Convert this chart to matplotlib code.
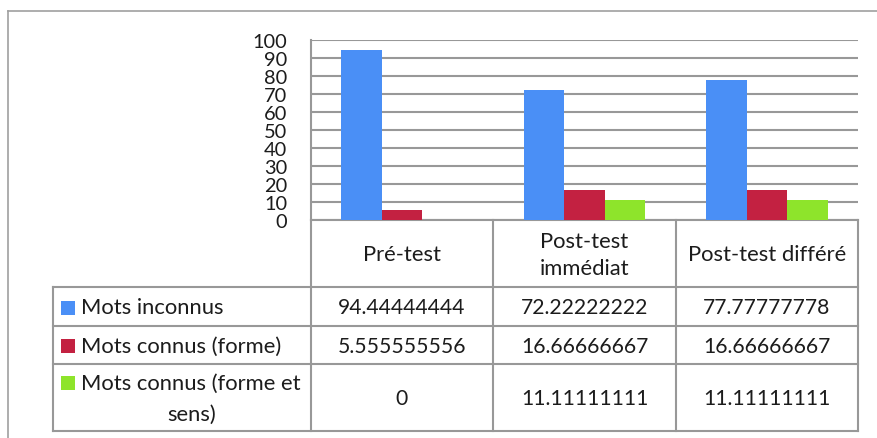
import matplotlib.pyplot as plt
from matplotlib.patches import Rectangle

# ---------------------------------------------------------------------------
# Data
# ---------------------------------------------------------------------------

categories = ["Pré-test", "Post-test\nimmédiat", "Post-test différé"]
series_names = ["Mots inconnus", "Mots connus (forme)", "Mots connus (forme et\nsens)"]
mots_inconnus = [94.44444444, 72.22222222, 77.77777778]
mots_connus_forme = [5.555555556, 16.66666667, 16.66666667]
mots_connus_forme_sens = [0, 11.11111111, 11.11111111]
y_ticks = [0, 10, 20, 30, 40, 50, 60, 70, 80, 90, 100]

series = [mots_inconnus, mots_connus_forme, mots_connus_forme_sens]
colors = ["#4A8FF6", "#C32141", "#8EE42B"]

# ---------------------------------------------------------------------------
# Layout (pixels)
# ---------------------------------------------------------------------------

W, H = 877, 439
GRID = "#989898"
TXT = "#1c1c1c"
FONT = "Lato"
FS_TICK = 14.4
FS_LABEL = 15.8
FS_NUM = 15.2

plot_l, plot_r, plot_t, plot_b = 311, 858, 41, 221
col_x = [311, 493, 676, 858]
row_y = [288, 327, 365, 432]
label_l = 53

fig = plt.figure(figsize=(W / 100, H / 100), dpi=100)

bg = fig.add_axes([0, 0, 1, 1])
bg.set_xlim(0, W)
bg.set_ylim(H, 0)
bg.axis("off")

# outer chart frame
bg.plot([8, W], [12, 12], color="#a0a0a0", lw=1.2)
bg.plot([8, 8], [12, H], color="#a0a0a0", lw=1.2)

ax = fig.add_axes([plot_l / W, 1 - plot_b / H, (plot_r - plot_l) / W, (plot_b - plot_t) / H])
ax.patch.set_alpha(0)

x = list(range(len(categories)))
bw = 1 / 4.5
for i, (vals, c) in enumerate(zip(series, colors)):
    ax.bar([p + (i - 1) * bw for p in x], vals, width=bw, color=c, zorder=3)

ax.set_xlim(-0.5, len(categories) - 0.5)
ax.set_ylim(0, 100)
ax.set_yticks(y_ticks)
ax.set_yticklabels([str(t) for t in y_ticks], fontsize=FS_TICK, family=FONT, color=TXT)
ax.set_xticks([])
ax.tick_params(axis="y", length=0, pad=17)
ax.yaxis.grid(True, color=GRID, lw=1.5)
ax.set_axisbelow(True)
for s in ["top", "right", "bottom"]:
    ax.spines[s].set_visible(False)
ax.spines["left"].set_color(GRID)
ax.spines["left"].set_linewidth(1.5)

# ---------------------------------------------------------------------------
# Data table
# ---------------------------------------------------------------------------

lw = 1.5
bg.plot([plot_l, plot_r], [plot_b, plot_b], color=GRID, lw=lw)
for xx in col_x:
    bg.plot([xx, xx], [plot_b, row_y[-1]], color=GRID, lw=lw)
bg.plot([label_l, label_l], [row_y[0], row_y[-1]], color=GRID, lw=lw)
for yy in row_y:
    bg.plot([label_l, plot_r], [yy, yy], color=GRID, lw=lw)

header_y = (plot_b + row_y[0]) / 2 + 1
for i, cat in enumerate(categories):
    cx = (col_x[i] + col_x[i + 1]) / 2
    bg.text(cx, header_y, cat, ha="center", va="center", fontsize=FS_LABEL,
            family=FONT, color=TXT, linespacing=1.45)

for r, (name, vals, c) in enumerate(zip(series_names, series, colors)):
    cy = (row_y[r] + row_y[r + 1]) / 2 + 1
    lines = name.split("\n")
    if len(lines) == 1:
        bg.add_patch(Rectangle((61, cy - 7), 14, 14, color=c, lw=0))
        bg.text(81, cy, name, ha="left", va="center", fontsize=FS_LABEL, family=FONT, color=TXT)
    else:
        y1 = cy - 16
        bg.add_patch(Rectangle((61, y1 - 7), 14, 14, color=c, lw=0))
        bg.text(81, y1, lines[0], ha="left", va="center", fontsize=FS_LABEL, family=FONT, color=TXT)
        bg.text(192, cy + 15, lines[1], ha="center", va="center", fontsize=FS_LABEL, family=FONT, color=TXT)
    for i, v in enumerate(vals):
        cx = (col_x[i] + col_x[i + 1]) / 2
        txt = "0" if v == 0 else f"{v:.10g}"
        bg.text(cx, cy, txt, ha="center", va="center", fontsize=FS_NUM, family=FONT, color=TXT)

fig.savefig("out.png", dpi=100)
